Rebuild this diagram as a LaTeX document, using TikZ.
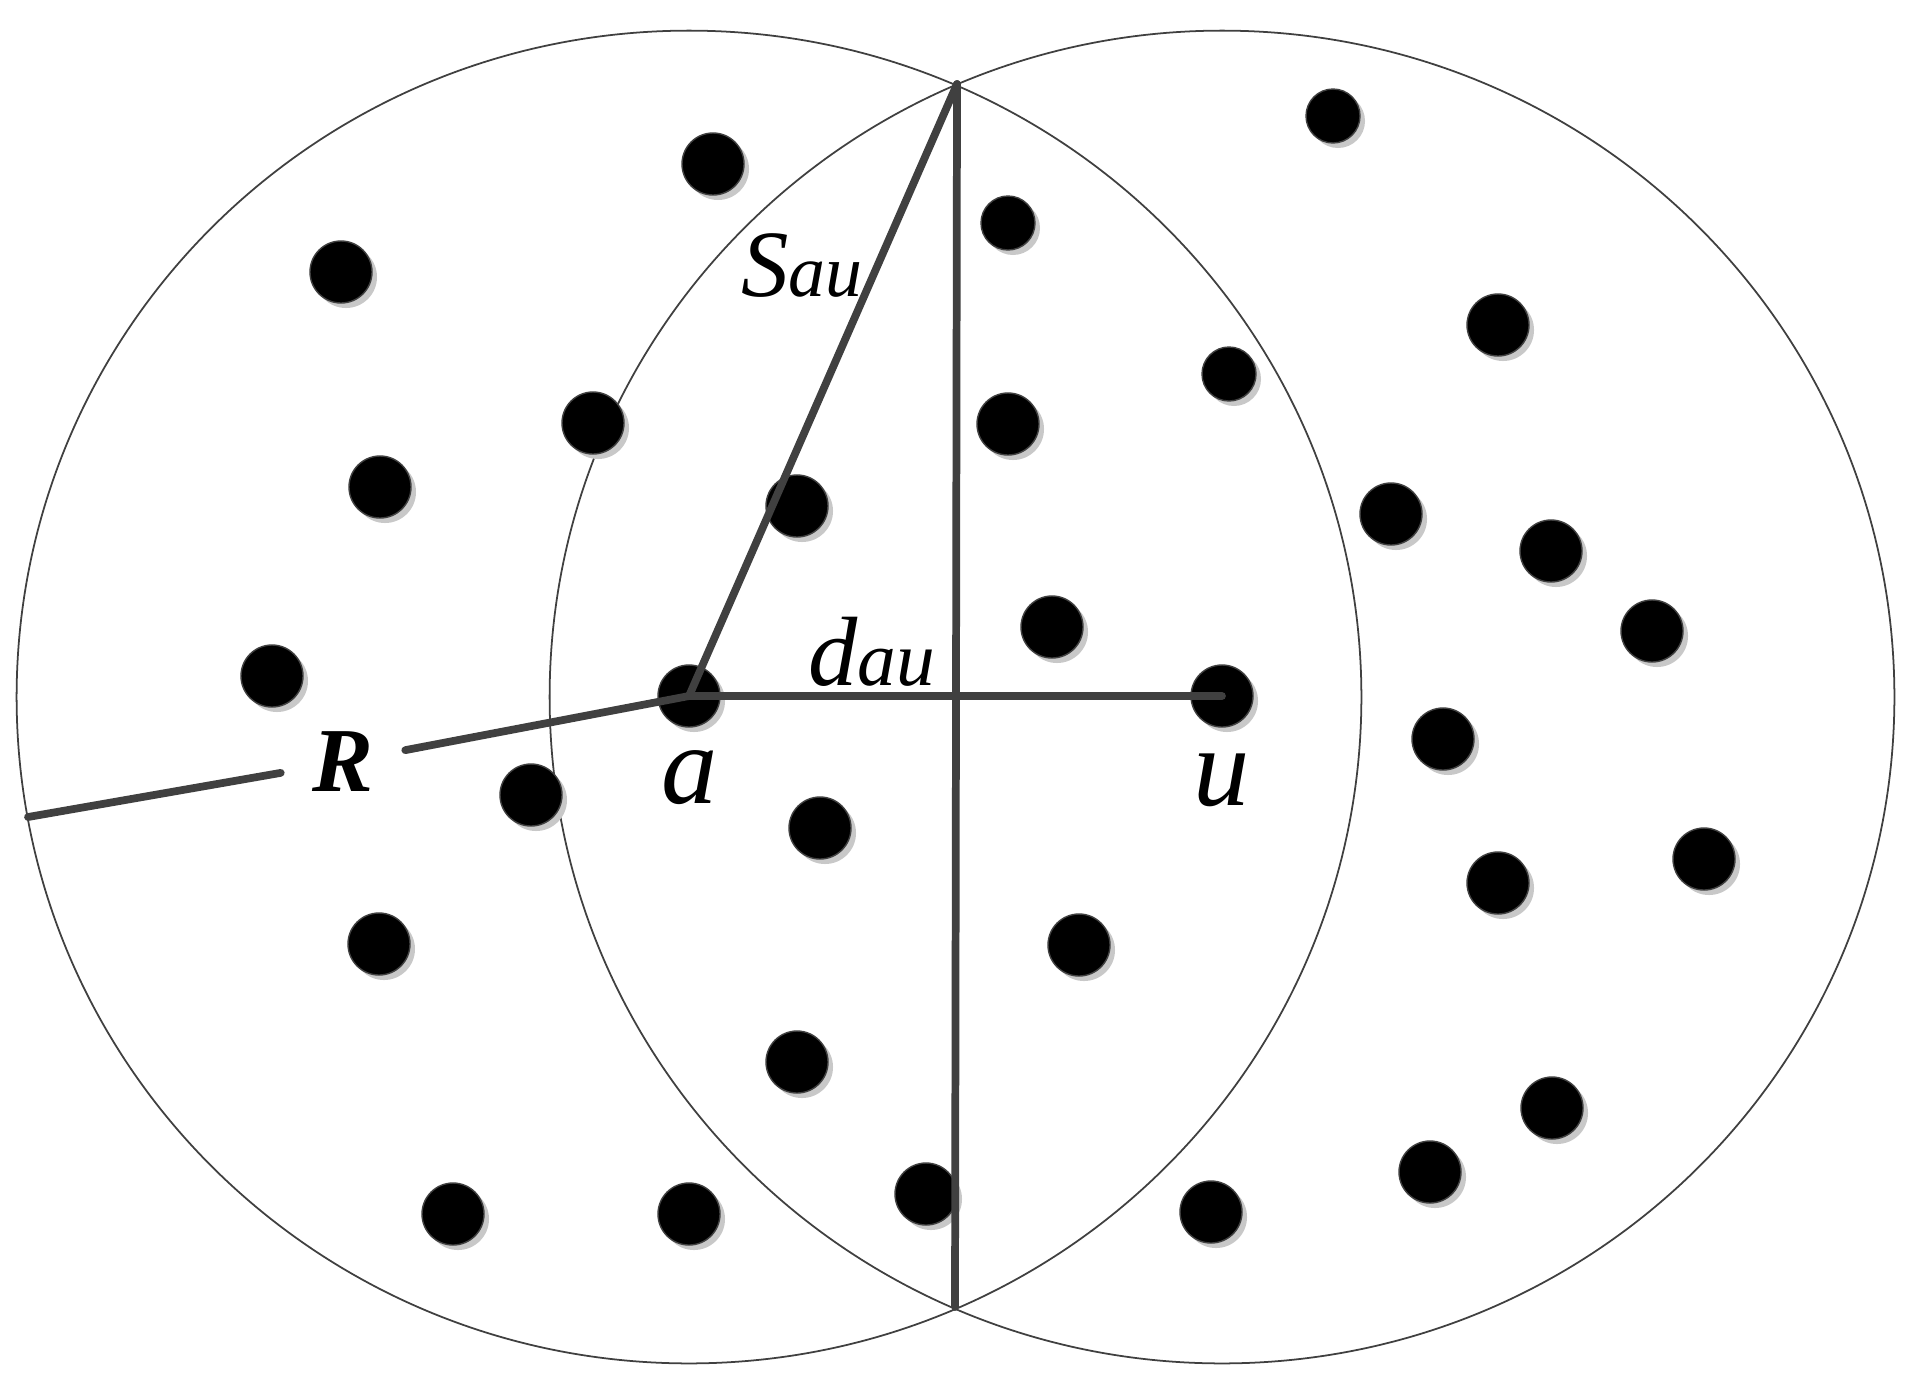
\documentclass[tikz,border=0pt]{standalone}
\usepackage{fontspec}
\setmainfont{Liberation Serif}
\definecolor{ln}{RGB}{64,64,64}
\definecolor{shd}{RGB}{200,200,200}
\begin{document}
\begin{tikzpicture}[x=0.01cm,y=-0.01cm,
  rim/.style={draw=ln,line width=0.5pt},
  seg/.style={draw=ln,line width=2.2pt,line cap=round},
  lab/.style={inner sep=0pt,font=\itshape}]
\useasboundingbox[fill=white] (0,0) rectangle (1910,1381);
% circles
\draw[rim] (689,697) circle[x radius=6.72cm,y radius=6.66cm];
\draw[rim] (1222,697) circle[x radius=6.72cm,y radius=6.66cm];
% key points
\coordinate (A) at (689,696);
\coordinate (U) at (1222,696);
\coordinate (T) at (957,84);
\coordinate (B) at (955,1307);
\coordinate (E) at (28,817);
% dots
\foreach \x/\y/\r in {713/164/31,341/272/31,593/423/31,380/487/31,797/506/31,272/676/31,
  689/696/31,531/795/31,820/828/31,379/944/31,797/1062/31,453/1214/31,689/1214/31,926/1194/31,
  1008/424/31,1498/325/31,1391/514/31,1551/551/31,1052/627/31,1652/631/31,1222/696/31,
  1443/739/31,1704/859/31,1498/883/31,1079/945/31,1552/1108/31,1430/1172/31,1211/1212/31,
  1008/223/27,1333/116/27,1229/374/27}{
  \fill[shd] ({\x+5},{\y+5}) circle[radius=\r*0.01cm];
  \filldraw[fill=black,draw=ln,line width=0.4pt] (\x,\y) circle[radius=\r*0.01cm];
}
% labels
\node[lab,anchor=base] (la) at (690,803) {\fontsize{32}{32}\selectfont a};
\node[lab,anchor=base] (lu) at (1222,805) {\fontsize{32}{32}\selectfont u};
\node[lab,anchor=base] (ld) at (872,685) {\fontsize{28}{28}\selectfont d\fontsize{22}{22}\selectfont au};
\node[lab,anchor=base] (ls) at (802,296) {\fontsize{27}{27}\selectfont S\fontsize{21}{21}\selectfont au};
\node[lab,font=\bfseries\itshape,minimum width=1.23cm,minimum height=0.4cm] (lR) at (343,762) {\fontsize{26}{26}\selectfont R};
% connectors
\draw[seg] (A) -- (T);
\draw[seg] (T) -- (B);
\draw[seg] (A) -- (U);
\draw[seg] (A) -- (lR);
\draw[seg] (lR) -- (E);
\end{tikzpicture}
\end{document}
